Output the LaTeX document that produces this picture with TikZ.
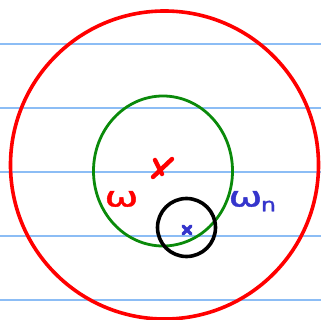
\documentclass[tikz,border=0pt]{standalone}
\usepackage{fontspec}
\setmainfont{DejaVu Sans}
\newfontfamily\inkfont[FakeBold=1.2]{DejaVu Sans}
\usetikzlibrary{shapes.geometric}
\definecolor{ruleblue}{HTML}{8CBDF5}
\definecolor{inkred}{HTML}{FF0000}
\definecolor{inkgreen}{HTML}{0A8A0A}
\definecolor{inkblue}{HTML}{3535CC}
\tikzset{
  ruleline/.style={draw=ruleblue, line width=1.8pt},
  ring/.style={circle, draw, inner sep=0pt, line width=3.6pt},
  oval/.style={ellipse, draw, inner sep=0pt, line width=2.8pt},
  crossmark/.style={line width=4.4pt, line cap=round},
  omega/.style={inner sep=0pt, font=\inkfont\fontsize{28}{28}\selectfont, xscale=1.45},
  sub/.style={inner sep=0pt, font=\inkfont\fontsize{19}{19}\selectfont, xscale=1.25}
}
\begin{document}
\begin{tikzpicture}[x=1pt,y=-1pt]
\useasboundingbox (0,0) rectangle (321,320);
\fill[white] (0,0) rectangle (321,320);
% ruled lines
\foreach \yy/\nm in {44/r1,108/r2,172/r3,236/r4,300/r5} {
  \coordinate (\nm a) at (0,\yy);
  \coordinate (\nm b) at (321,\yy);
  \draw[ruleline] (\nm a) -- (\nm b);
}
% circles
\node[ring, draw=inkred, minimum size=308pt] (big) at (164.5,165) {};
\node[oval, draw=inkgreen, minimum width=139pt, minimum height=150pt] (omg) at (163,171) {};
\node[ring, draw=black, minimum size=58pt] (small) at (186.5,227.5) {};
% centre marks
\coordinate (c1) at (162,168);
\draw[crossmark, draw=inkred] ([shift={(10,-9)}]c1) -- ([shift={(-9,9)}]c1);
\draw[crossmark, draw=inkred] ([shift={(-7,-8)}]c1) -- ([shift={(0,6)}]c1);
\coordinate (c2) at (187,230);
\draw[crossmark, draw=inkblue, line width=3.2pt] ([shift={(-4,-4)}]c2) -- ([shift={(4,4)}]c2);
\draw[crossmark, draw=inkblue, line width=3.2pt] ([shift={(4,-4)}]c2) -- ([shift={(-4,4)}]c2);
% labels
\node[omega, text=inkred] (w) at (121.5,199) {ω};
\node[omega, text=inkblue] (wn) at (245.5,199) {ω};
\node[sub, text=inkblue] (n) at (268.5,206) {n};
\end{tikzpicture}
\end{document}
